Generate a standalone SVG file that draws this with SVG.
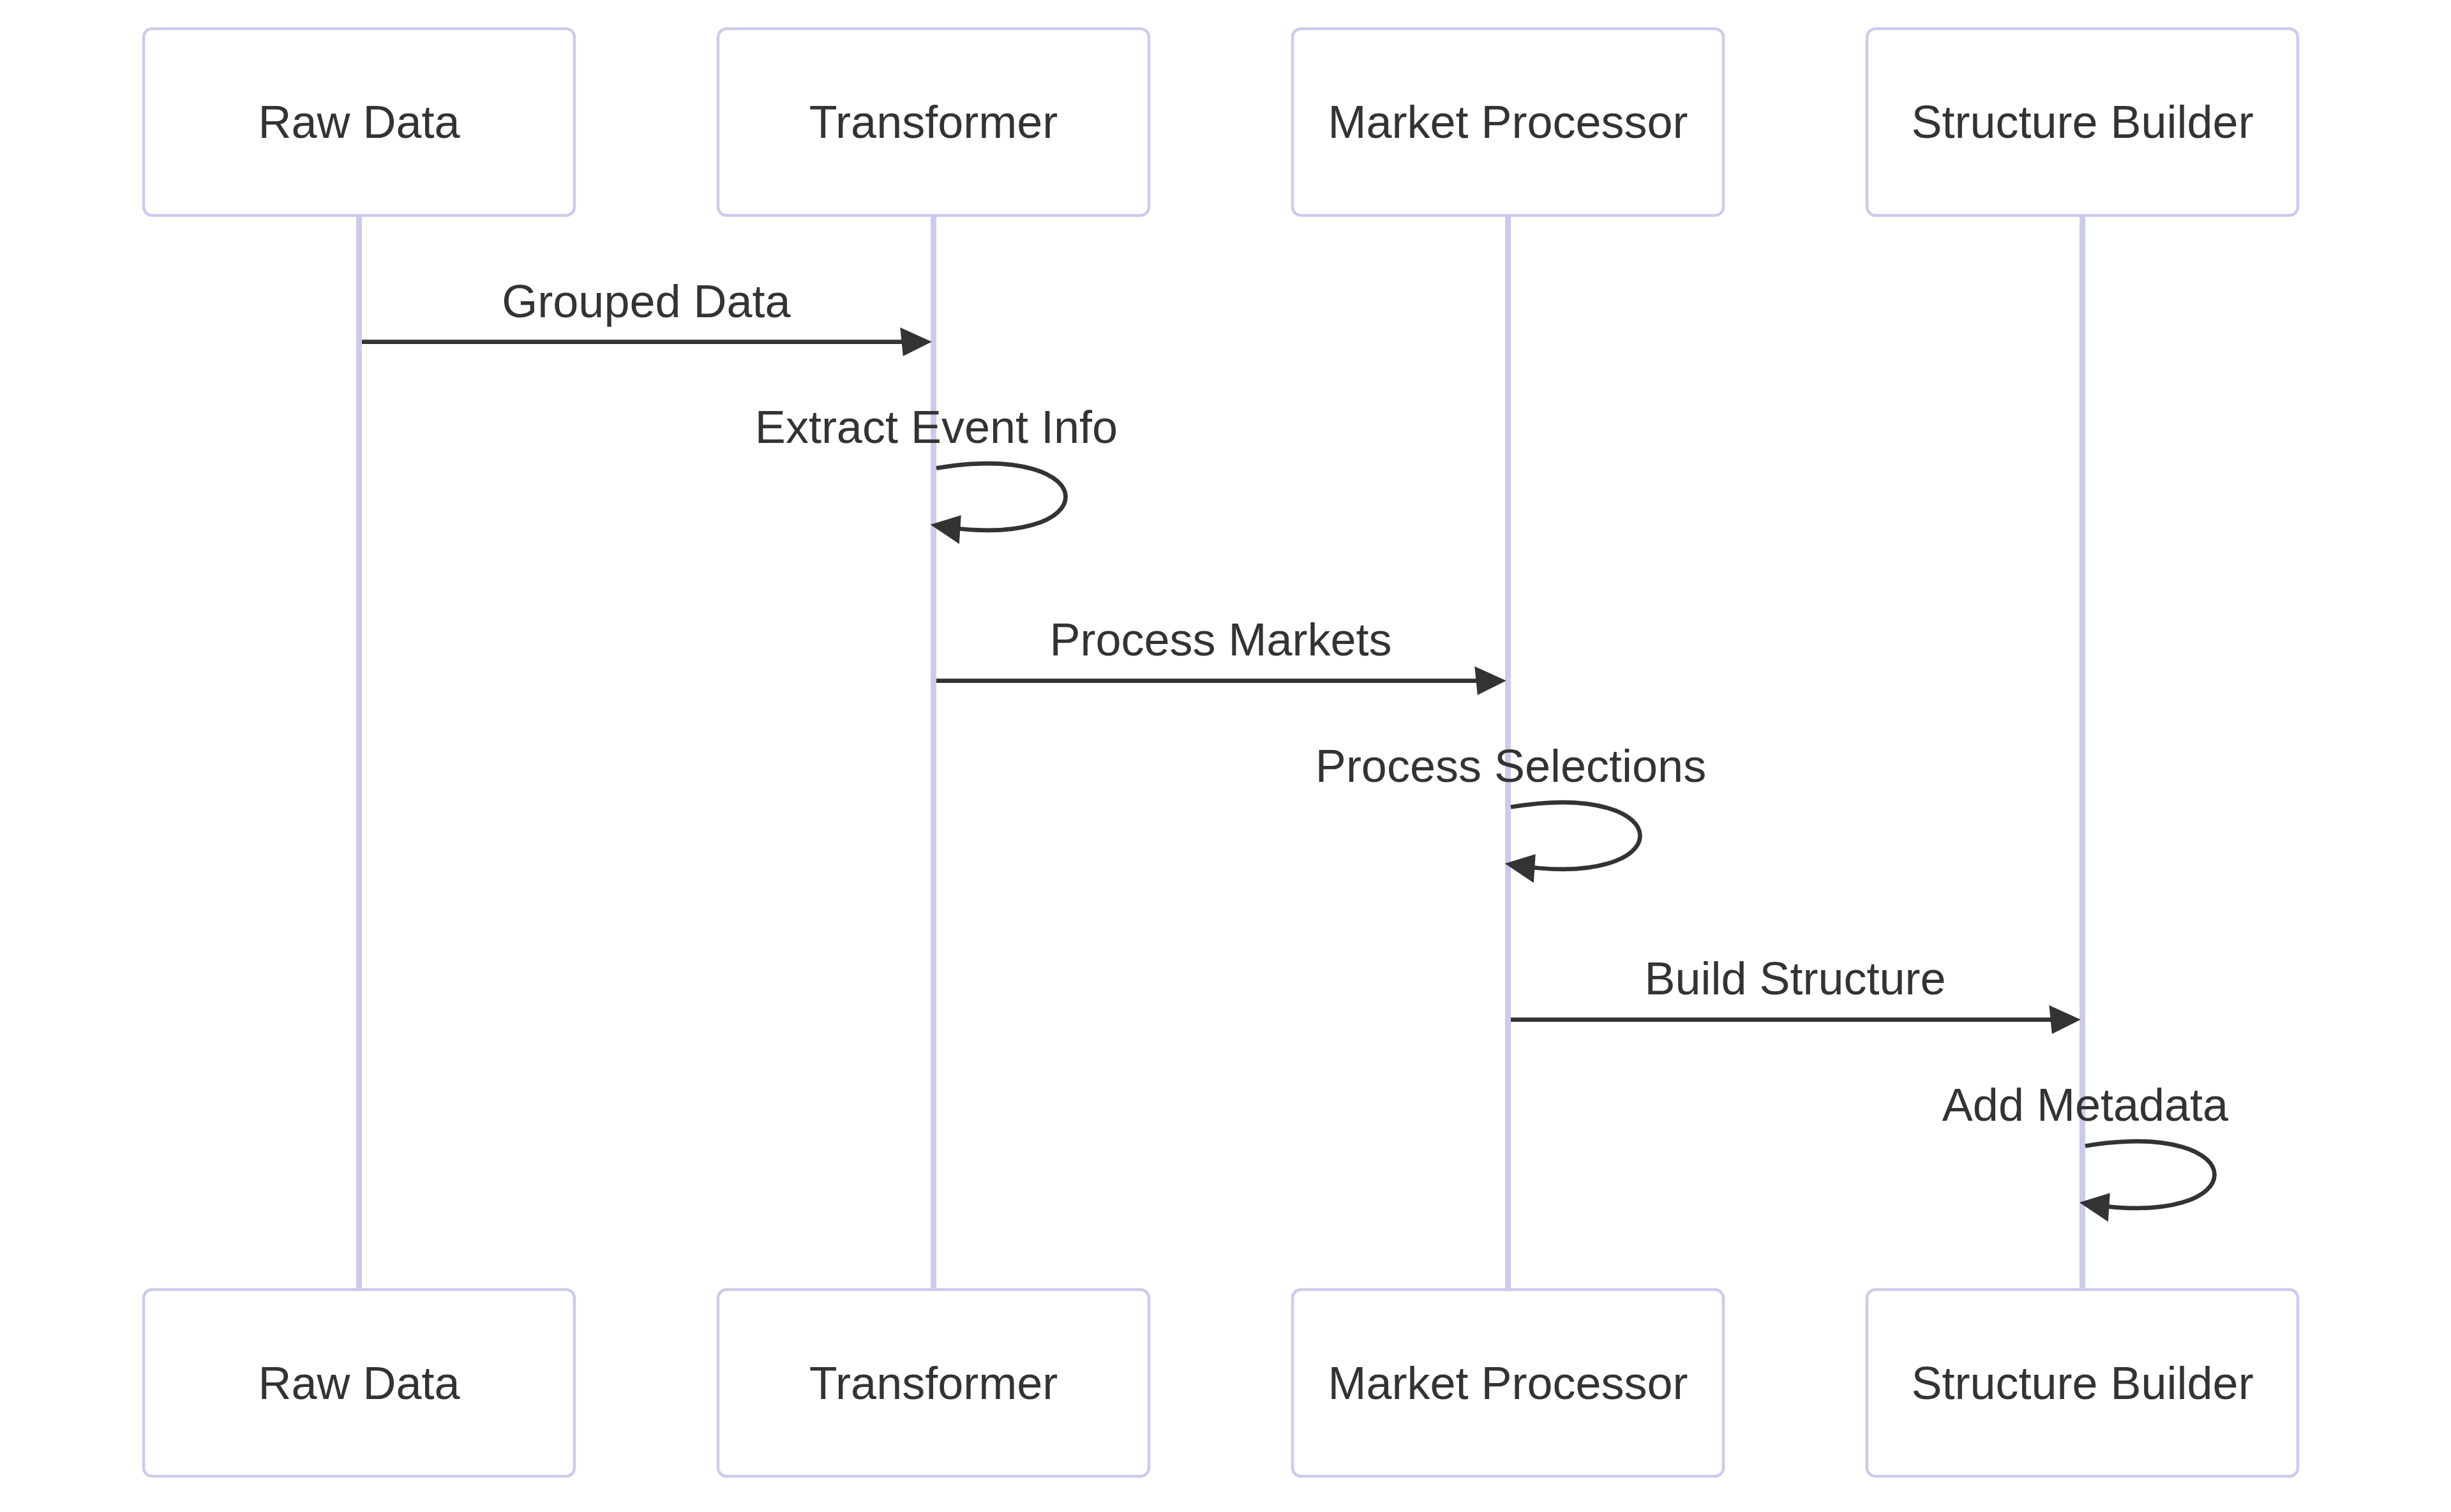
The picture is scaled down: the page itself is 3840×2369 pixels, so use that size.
<svg xmlns="http://www.w3.org/2000/svg" width="3840" height="2369" viewBox="0 0 3840 2369">
<style>
.actor{fill:#ffffff;stroke:#cbcbed;stroke-width:1}
.lifeline{stroke:#cbcbed;stroke-width:2}
.actor-text{font-family:"Liberation Sans",Arial,sans-serif;font-size:16px;fill:#333333;text-anchor:middle}
.msg{stroke:#333333;stroke-width:1.5;fill:none;marker-end:url(#arrowhead)}
.msg-text{font-family:"Liberation Sans",Arial,sans-serif;font-size:16px;fill:#333333;text-anchor:middle}
</style>
<defs>
<marker id="arrowhead" refX="7.9" refY="5" markerUnits="userSpaceOnUse" markerWidth="12" markerHeight="12" orient="auto" overflow="visible">
<path d="M -1 0 L 10 5 L 0 10 z" fill="#333333"/>
</marker>
</defs>
<rect x="0" y="0" width="3840" height="2369" fill="#ffffff"/>
<g transform="translate(225,45) scale(4.5)">
<g id="lifelines">
<line class="lifeline" x1="75" y1="65" x2="75" y2="439"/>
<line class="lifeline" x1="275" y1="65" x2="275" y2="439"/>
<line class="lifeline" x1="475" y1="65" x2="475" y2="439"/>
<line class="lifeline" x1="675" y1="65" x2="675" y2="439"/>
</g>
<g id="raw-data">
<rect class="actor" x="0" y="0" width="150" height="65" rx="3" ry="3"/>
<text class="actor-text" x="75" y="38">Raw Data</text>
<rect class="actor" x="0" y="439" width="150" height="65" rx="3" ry="3"/>
<text class="actor-text" x="75" y="477">Raw Data</text>
</g>
<g id="transformer">
<rect class="actor" x="200" y="0" width="150" height="65" rx="3" ry="3"/>
<text class="actor-text" x="275" y="38">Transformer</text>
<rect class="actor" x="200" y="439" width="150" height="65" rx="3" ry="3"/>
<text class="actor-text" x="275" y="477">Transformer</text>
</g>
<g id="market-processor">
<rect class="actor" x="400" y="0" width="150" height="65" rx="3" ry="3"/>
<text class="actor-text" x="475" y="38">Market Processor</text>
<rect class="actor" x="400" y="439" width="150" height="65" rx="3" ry="3"/>
<text class="actor-text" x="475" y="477">Market Processor</text>
</g>
<g id="structure-builder">
<rect class="actor" x="600" y="0" width="150" height="65" rx="3" ry="3"/>
<text class="actor-text" x="675" y="38">Structure Builder</text>
<rect class="actor" x="600" y="439" width="150" height="65" rx="3" ry="3"/>
<text class="actor-text" x="675" y="477">Structure Builder</text>
</g>
<g id="connectors">
<text class="msg-text" x="175" y="100.4">Grouped Data</text>
<line class="msg" x1="76" y1="109" x2="272.3" y2="109"/>
<text class="msg-text" x="276" y="144.3">Extract Event Info</text>
<path class="msg" d="M 276 153 C 336 143 336 183 276 173"/>
<text class="msg-text" x="375" y="218.3">Process Markets</text>
<line class="msg" x1="276" y1="227" x2="472.3" y2="227"/>
<text class="msg-text" x="476" y="262.3">Process Selections</text>
<path class="msg" d="M 476 271 C 536 261 536 301 476 291"/>
<text class="msg-text" x="575" y="336.3">Build Structure</text>
<line class="msg" x1="476" y1="345" x2="672.3" y2="345"/>
<text class="msg-text" x="676" y="380.3">Add Metadata</text>
<path class="msg" d="M 676 389 C 736 379 736 419 676 409"/>
</g>
</g>
</svg>
